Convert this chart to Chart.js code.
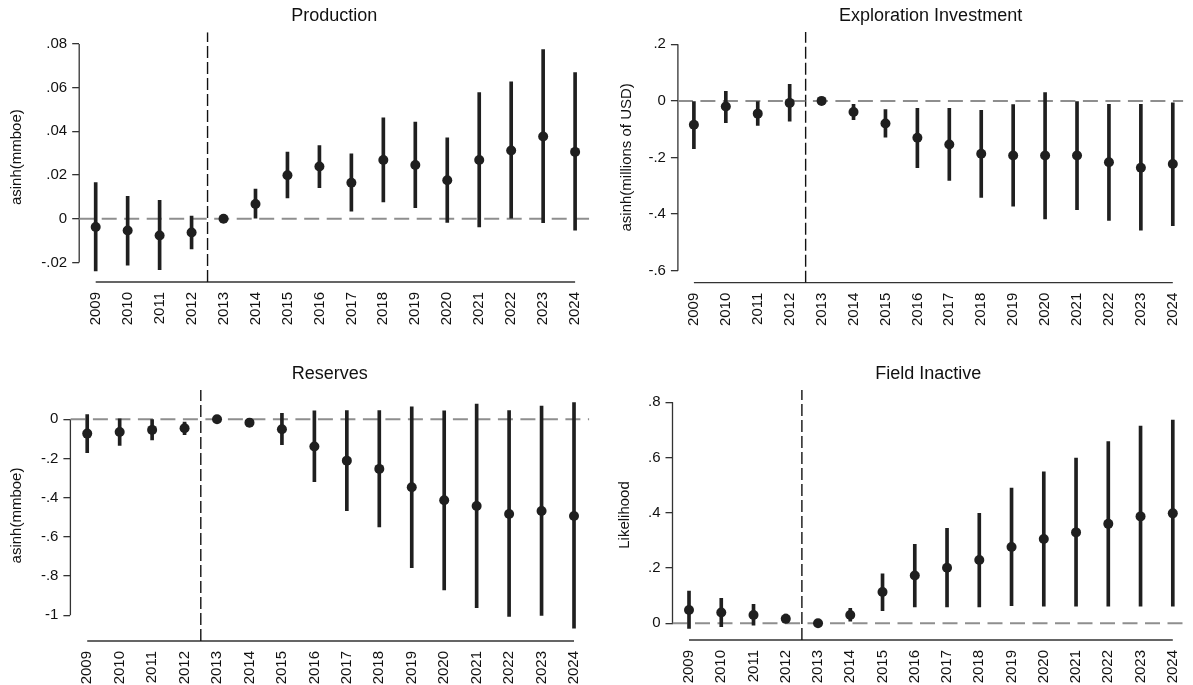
<!DOCTYPE html>
<html>
<head>
<meta charset="utf-8">
<script src="https://cdn.jsdelivr.net/npm/chart.js@4/dist/chart.umd.min.js"></script>
<style>
  html, body { margin: 0; padding: 0; background: #fff; }
  body { width: 1193px; height: 685px; position: relative; overflow: hidden; }
  .panel { position: absolute; }
  canvas { display: block; }
</style>
</head>
<body>
<div class="panel" style="left:0;top:0"><canvas id="production" width="596" height="340"></canvas></div>
<div class="panel" style="left:596px;top:0"><canvas id="exploration" width="597" height="340"></canvas></div>
<div class="panel" style="left:0;top:340px"><canvas id="reserves" width="596" height="345"></canvas></div>
<div class="panel" style="left:596px;top:340px"><canvas id="inactive" width="597" height="345"></canvas></div>
<script>
// Event-study years (2013 is the reference year, normalised to zero)
const years = [2009, 2010, 2011, 2012, 2013, 2014, 2015, 2016, 2017, 2018, 2019, 2020, 2021, 2022, 2023, 2024];
const treatmentBreak = 2012.5;
const baseline = 0;

// Production: point estimates and 95% confidence bounds
const productionEst = [-0.0038, -0.0054, -0.0077, -0.0063, 0, 0.0067, 0.0199, 0.0239, 0.0165, 0.0269, 0.0246, 0.0176, 0.0269, 0.0312, 0.0376, 0.0306];
const productionLo  = [-0.0239, -0.0213, -0.0233, -0.0138, 0, 0.0000, 0.0095, 0.0142, 0.0035, 0.0077, 0.0050, -0.0017, -0.0038, 0.0003, -0.0018, -0.0052];
const productionHi  = [0.0165, 0.0103, 0.0084, 0.0012, 0, 0.0136, 0.0305, 0.0335, 0.0297, 0.0462, 0.0442, 0.0370, 0.0578, 0.0627, 0.0774, 0.0669];
const productionTicks = [-0.02, 0, 0.02, 0.04, 0.06, 0.08];

// Exploration investment
const explorationEst = [-0.084, -0.020, -0.045, -0.007, 0, -0.039, -0.080, -0.130, -0.154, -0.187, -0.193, -0.193, -0.193, -0.217, -0.236, -0.223];
const explorationLo  = [-0.169, -0.077, -0.087, -0.072, 0, -0.066, -0.128, -0.236, -0.281, -0.341, -0.372, -0.417, -0.384, -0.422, -0.457, -0.441];
const explorationHi  = [0.000, 0.034, 0.000, 0.059, 0, -0.012, -0.031, -0.026, -0.026, -0.033, -0.013, 0.029, 0.000, -0.012, -0.012, -0.007];
const explorationTicks = [-0.6, -0.4, -0.2, 0, 0.2];

// Reserves
const reservesEst = [-0.073, -0.065, -0.054, -0.046, 0, -0.017, -0.051, -0.139, -0.211, -0.253, -0.347, -0.413, -0.442, -0.483, -0.468, -0.493];
const reservesLo  = [-0.170, -0.133, -0.105, -0.078, 0, -0.037, -0.129, -0.318, -0.466, -0.549, -0.757, -0.870, -0.961, -1.006, -1.000, -1.066];
const reservesHi  = [0.024, 0.003, -0.002, -0.014, 0, 0.003, 0.031, 0.043, 0.044, 0.044, 0.063, 0.043, 0.078, 0.044, 0.068, 0.085];
const reservesTicks = [-1, -0.8, -0.6, -0.4, -0.2, 0];

// Field inactive (likelihood)
const inactiveEst = [0.048, 0.039, 0.030, 0.016, 0, 0.030, 0.113, 0.173, 0.201, 0.229, 0.276, 0.305, 0.329, 0.360, 0.387, 0.398];
const inactiveLo  = [-0.019, -0.012, -0.007, 0.004, 0, 0.008, 0.046, 0.059, 0.059, 0.059, 0.064, 0.062, 0.062, 0.062, 0.062, 0.062];
const inactiveHi  = [0.117, 0.090, 0.069, 0.033, 0, 0.054, 0.179, 0.286, 0.344, 0.398, 0.489, 0.548, 0.598, 0.658, 0.714, 0.736];
const inactiveTicks = [0, 0.2, 0.4, 0.6, 0.8];

const FONT = "'Liberation Sans', Arial, Helvetica, sans-serif";
const INK = '#1f1f1f';
const AXIS = '#333333';

// Stata-style numeric labels: ".08", "-.2", "0", "-1"
function stataLabel(v) {
  const s = String(Math.round(v * 10000) / 10000);
  return s.replace(/^(-?)0\./, '$1.');
}

// Axis lines that only span the labelled range, as in Stata
const axisLines = {
  id: 'axisLines',
  beforeDatasetsDraw(chart) {
    const { ctx, chartArea } = chart;
    const x = chart.scales.x, y = chart.scales.y;
    const yt = y.ticks, xt = x.ticks;
    ctx.save();
    ctx.strokeStyle = AXIS;
    ctx.lineWidth = 1.3;
    ctx.beginPath();
    ctx.moveTo(chartArea.left, y.getPixelForValue(yt[0].value));
    ctx.lineTo(chartArea.left, y.getPixelForValue(yt[yt.length - 1].value));
    ctx.moveTo(x.getPixelForValue(xt[0].value), chartArea.bottom);
    ctx.lineTo(x.getPixelForValue(xt[xt.length - 1].value), chartArea.bottom);
    ctx.stroke();
    ctx.restore();
  }
};

function makePanel(id, p) {
  new Chart(document.getElementById(id), {
    type: 'bar',
    data: {
      datasets: [
        {
          type: 'scatter',
          data: years.map((yr, i) => ({ x: yr, y: p.est[i] })),
          backgroundColor: INK,
          borderWidth: 0,
          pointRadius: 5,
          pointHoverRadius: 5,
          order: 0
        },
        {
          type: 'bar',
          data: years.map((yr, i) => ({ x: yr, y: [p.lo[i], p.hi[i]] })),
          backgroundColor: INK,
          borderWidth: 0,
          barThickness: 3,
          order: 1
        },
        {
          type: 'line',
          data: [{ x: p.xMin, y: baseline }, { x: p.xMax, y: baseline }],
          borderColor: '#8e8e8e',
          borderWidth: 2,
          borderDash: [15, 7.5],
          pointRadius: 0,
          order: 2
        },
        {
          type: 'line',
          data: [{ x: treatmentBreak, y: p.yMin }, { x: treatmentBreak, y: p.yMax }],
          borderColor: '#111',
          borderWidth: 1.4,
          borderDash: [12, 4],
          pointRadius: 0,
          order: 3
        }
      ]
    },
    options: {
      responsive: false,
      animation: false,
      events: [],
      layout: { padding: { left: 0, right: p.padRight, top: 0, bottom: 0 } },
      plugins: {
        legend: { display: false },
        tooltip: { enabled: false },
        title: {
          display: true,
          text: p.title,
          fullSize: false,
          color: '#111',
          font: { family: FONT, size: 18, weight: 'normal', lineHeight: 1.2 },
          padding: { top: p.titleTop, bottom: p.titleBottom }
        }
      },
      scales: {
        x: {
          type: 'linear',
          min: p.xMin,
          max: p.xMax,
          offset: false,
          grid: { display: false, offset: false },
          border: { display: false },
          afterBuildTicks: s => { s.ticks = years.map(v => ({ value: v })); },
          afterFit: s => { s.height = p.xAxisHeight; },
          ticks: {
            autoSkip: false,
            maxRotation: 90,
            minRotation: 90,
            padding: 2,
            color: '#111',
            font: { family: FONT, size: 15 },
            callback: v => String(v)
          }
        },
        y: {
          type: 'linear',
          min: p.yMin,
          max: p.yMax,
          grid: { display: true, drawOnChartArea: false, drawTicks: true, tickLength: 7, color: AXIS, lineWidth: 1.3 },
          border: { display: false },
          afterBuildTicks: s => { s.ticks = p.ticks.map(v => ({ value: v })); },
          afterFit: s => { s.width = p.yAxisWidth; },
          ticks: {
            padding: 5,
            color: '#111',
            font: { family: FONT, size: 15 },
            callback: v => stataLabel(v)
          },
          title: {
            display: true,
            text: p.yTitle,
            color: '#111',
            font: { family: FONT, size: 15 },
            padding: { top: p.yTitlePad, bottom: 0 }
          }
        }
      }
    },
    plugins: [axisLines]
  });
}

makePanel('production', {
  title: 'Production', yTitle: 'asinh(mmboe)',
  est: productionEst, lo: productionLo, hi: productionHi, ticks: productionTicks,
  yMin: -0.02898, yMax: 0.08535, xMin: 2008.484, xMax: 2024.444,
  yAxisWidth: 79.2, xAxisHeight: 58, padRight: 6.7, titleTop: 5.7, titleBottom: 5.0, yTitlePad: 8.2
});

makePanel('exploration', {
  title: 'Exploration Investment', yTitle: 'asinh(millions of USD)',
  est: explorationEst, lo: explorationLo, hi: explorationHi, ticks: explorationTicks,
  yMin: -0.6424, yMax: 0.2435, xMin: 2008.499, xMax: 2024.329,
  yAxisWidth: 81.9, xAxisHeight: 57.3, padRight: 0, titleTop: 5.7, titleBottom: 4.7, yTitlePad: 21.5
});

makePanel('reserves', {
  title: 'Reserves', yTitle: 'asinh(mmboe)',
  est: reservesEst, lo: reservesLo, hi: reservesHi, ticks: reservesTicks,
  yMin: -1.1311, yMax: 0.1495, xMin: 2008.482, xMax: 2024.471,
  yAxisWidth: 70.4, xAxisHeight: 44, padRight: 6.7, titleTop: 23.6, titleBottom: 4.8, yTitlePad: 8.2
});

makePanel('inactive', {
  title: 'Field Inactive', yTitle: 'Likelihood',
  est: inactiveEst, lo: inactiveLo, hi: inactiveHi, ticks: inactiveTicks,
  yMin: -0.0605, yMax: 0.8445, xMin: 2008.488, xMax: 2024.347,
  yAxisWidth: 76.5, xAxisHeight: 45, padRight: 0, titleTop: 23.6, titleBottom: 4.8, yTitlePad: 20.3
});
</script>
</body>
</html>
